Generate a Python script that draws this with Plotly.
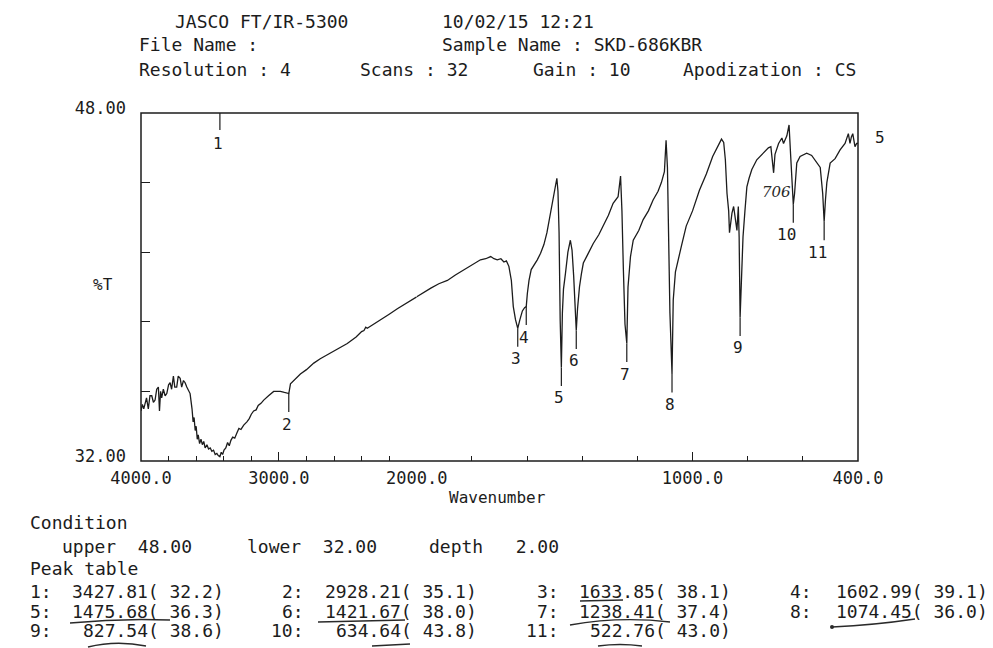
import plotly.graph_objects as go

# ---------------- data ----------------
wavenumber = [
    4000, 3990, 3980, 3971, 3960, 3947, 3935, 3922, 3910, 3898, 3886, 3874, 3866, 3858, 3850,
    3838, 3825, 3813, 3800, 3789, 3778, 3765, 3755, 3741, 3730, 3716, 3705, 3692, 3680, 3668,
    3655, 3644, 3630, 3622, 3615, 3607, 3600, 3592, 3585, 3575, 3565, 3555, 3545, 3535, 3522,
    3510, 3498, 3486, 3474, 3462, 3450, 3440, 3428, 3418, 3408, 3398, 3385, 3372, 3360, 3348,
    3335, 3320, 3304, 3290, 3275, 3255, 3232, 3215, 3200, 3183, 3165, 3150, 3130, 3110, 3075,
    3038, 3010, 2989, 2960, 2941, 2928, 2916, 2880, 2844, 2800, 2747, 2700, 2626, 2560, 2504,
    2440, 2400, 2383, 2370, 2359, 2320, 2262, 2200, 2141, 2080, 2020, 2000,
    1970, 1949, 1920, 1889, 1860, 1829, 1800, 1769, 1750, 1732, 1720, 1708, 1695, 1684, 1675,
    1666, 1657, 1650, 1642, 1638, 1633.85, 1626, 1617, 1609, 1602.99, 1599, 1593, 1585, 1575,
    1563, 1551, 1539, 1528, 1518, 1510, 1500, 1492, 1488, 1484, 1480, 1475.68, 1472, 1468,
    1461, 1452, 1443, 1437, 1431, 1426, 1421.67, 1417, 1410, 1403, 1396, 1380, 1360, 1340,
    1324, 1305, 1288, 1278, 1270, 1261, 1256, 1251, 1245, 1238.41, 1234, 1225, 1215, 1195,
    1179, 1160, 1143, 1125, 1113, 1102, 1096, 1091, 1087, 1082, 1074.45, 1070, 1062, 1053,
    1040, 1023, 1000, 975, 950, 927, 905, 895, 887, 881, 875, 869, 866, 857, 851, 845, 839,
    834, 831, 827.54, 823, 817, 810, 803, 795, 785, 767, 743, 725, 716, 710, 706, 701, 688,
    676, 670, 658, 650, 644, 640, 634.64, 630, 626, 622, 610, 586, 568, 550, 537, 528, 522.76,
    518, 513, 501, 483, 465, 447, 435, 429, 424, 419, 411, 405, 400,
]
transmittance = [
    34.3, 34.6, 34.4, 34.6, 34.9, 34.4, 35.0, 35.0, 34.7, 34.8, 35.3, 35.4, 34.3, 35.2, 34.9,
    35.3, 35.0, 35.1, 35.5, 35.6, 35.3, 35.9, 35.4, 35.4, 35.9, 35.8, 35.4, 35.7, 35.6, 35.4,
    35.2, 35.1, 34.4, 33.8, 34.0, 33.4, 33.6, 33.0, 33.2, 32.8, 33.0, 32.75, 32.9, 32.6, 32.75,
    32.55, 32.6, 32.45, 32.5, 32.3, 32.35, 32.25, 32.2, 32.4, 32.3, 32.5, 32.6, 32.85, 32.7, 32.95,
    33.1, 33.05, 33.3, 33.5, 33.45, 33.65, 33.8, 33.95, 34.15, 34.3, 34.35, 34.55, 34.65, 34.8, 35.0,
    35.2, 35.2, 35.2, 35.15, 35.1, 35.1, 35.55, 35.8, 36.0, 36.2, 36.5, 36.7, 36.95, 37.2, 37.4,
    37.7, 37.95, 38.0, 38.15, 38.1, 38.25, 38.5, 38.75, 39.0, 39.25, 39.5, 39.55,
    39.8, 39.95, 40.15, 40.3, 40.55, 40.8, 41.0, 41.25, 41.3, 41.4, 41.3, 41.25, 41.3, 41.15, 41.2,
    40.95, 40.3, 39.1, 38.5, 38.25, 38.1, 38.5, 38.9, 39.05, 39.1, 39.7, 40.3, 40.8, 41.0,
    41.25, 41.55, 41.95, 42.5, 43.2, 43.7, 44.3, 45.0, 44.4, 42.5, 38.5, 36.3, 38.8, 39.9,
    40.6, 41.6, 42.15, 41.7, 40.5, 39.3, 38.0, 39.0, 40.0, 40.6, 41.1, 41.5, 42.0, 42.4,
    42.8, 43.3, 43.85, 44.0, 44.15, 45.1, 43.5, 40.9, 38.3, 37.4, 40.0, 41.4, 42.15, 42.6,
    43.1, 43.5, 44.0, 44.4, 44.8, 45.3, 46.75, 45.5, 43.0, 38.8, 36.0, 39.4, 40.7, 41.25,
    41.9, 42.8, 43.5, 44.45, 45.2, 46.0, 46.6, 46.8, 46.65, 45.85, 44.3, 43.5, 42.5, 43.4, 43.7, 43.2, 42.6,
    43.7, 42.3, 38.6, 40.0, 42.3, 43.5, 44.6, 45.0, 45.4, 45.85, 46.15, 46.4, 46.45, 45.8, 45.25, 46.1, 46.6,
    46.85, 46.6, 46.95, 47.45, 46.0, 44.9, 43.8, 44.3, 45.2, 45.7, 46.0, 46.15, 46.05, 45.75, 45.5, 44.3, 43.0,
    44.0, 44.8, 45.7, 45.9, 46.3, 46.6, 47.05, 46.6, 46.9, 47.05, 46.45, 46.6, 46.6,
]

peak_wavenumber = [3427.81, 2928.21, 1633.85, 1602.99, 1475.68, 1421.67,
                   1238.41, 1074.45, 827.54, 634.64, 522.76]
peak_transmittance = [32.2, 35.1, 38.1, 39.1, 36.3, 38.0, 37.4, 36.0, 38.6, 43.8, 43.0]

split_wavenumber = 2000
left_ticks = [4000, 3000, 2000]
right_ticks = [1000, 400]
left_minor = [3800, 3600, 3400, 3200, 2800, 2600, 2400, 2200]
right_minor = [1800, 1600, 1400, 1200, 800, 600]
y_ticks = [32.0, 35.2, 38.4, 41.6, 44.8, 48.0]
y_ticktext = ["32.00", "", "", "", "", "48.00"]

instrument = "JASCO FT/IR-5300"
timestamp = "10/02/15 12:21"
sample_name = "SKD-686KBR"
resolution = 4
scans = 32
gain = 10
apodization = "CS"
cond_upper = 48.00
cond_lower = 32.00
cond_depth = 2.00
handwritten_note = "706"

# ---------------- layout helpers ----------------
W, H = 993, 648
FL, FT, FR, FB = 141, 113, 858, 461
FW, FH = FR - FL, FB - FT
FONT = "DejaVu Sans Mono"
INK = "#1c1c1c"
PEN = "#2a2a2a"


def px(x):
    return (x - FL) / FW


def py(y):
    return (FB - y) / FH


d_split = (4000 - split_wavenumber) / ((4000 - split_wavenumber) + 2 * (split_wavenumber - 400))

left_x = [w for w in wavenumber if w >= split_wavenumber]
left_y = [t for w, t in zip(wavenumber, transmittance) if w >= split_wavenumber]
right_x = [w for w in wavenumber if w <= split_wavenumber]
right_y = [t for w, t in zip(wavenumber, transmittance) if w <= split_wavenumber]

fig = go.Figure()
line = dict(color=INK, width=1.3)
fig.add_trace(go.Scatter(x=left_x, y=left_y, mode="lines", line=line, xaxis="x", yaxis="y",
                         showlegend=False, hoverinfo="skip"))
fig.add_trace(go.Scatter(x=right_x, y=right_y, mode="lines", line=line, xaxis="x2", yaxis="y",
                         showlegend=False, hoverinfo="skip"))

shapes = []
annotations = []

# frame
shapes.append(dict(type="rect", xref="paper", yref="paper", x0=0, x1=1, y0=0, y1=1,
                   line=dict(color=INK, width=1.5)))

# peak markers
for i, (w, t) in enumerate(zip(peak_wavenumber, peak_transmittance), start=1):
    xr = "x" if w >= split_wavenumber else "x2"
    if t - 1.6 < 32:  # label placed at the top when it would fall below the frame
        y0, y1, yl = 48.0, 47.22, 46.62
    else:
        y0, y1, yl = t, t - 0.85, t - 1.4
    shapes.append(dict(type="line", xref=xr, yref="y", x0=w, x1=w, y0=y0, y1=y1,
                       line=dict(color=INK, width=1.2)))
    annotations.append(dict(xref=xr, yref="y", x=w, y=yl, text=str(i), showarrow=False,
                            xanchor="right", yanchor="middle", xshift=5,
                            font=dict(family=FONT, size=16, color=INK)))


def txt(x, y, s, size=18, anchor="left", color=INK, family=FONT, style="normal"):
    annotations.append(dict(xref="paper", yref="paper", x=px(x), y=py(y), text=s,
                            showarrow=False, xanchor=anchor, yanchor="middle",
                            font=dict(family=family, size=size, color=color, style=style)))


# header
txt(173, 21, instrument)
txt(440, 21, timestamp)
txt(137, 45, "File Name :")
txt(440, 45, f"Sample Name : {sample_name}")
txt(137, 70, f"Resolution : {resolution}")
txt(358, 70, f"Scans : {scans}")
txt(531, 70, f"Gain : {gain}")
txt(681, 70, f"Apodization : {apodization}")

# axis titles
txt(103, 284, "%T", 16, anchor="center")
txt(497, 497, "Wavenumber", 16, anchor="center")
txt(880, 137, "5", 16, anchor="center")

# condition block
txt(28, 522, "Condition")
txt(60, 546, f"upper  {cond_upper:.2f}")
txt(245, 546, f"lower  {cond_lower:.2f}")
txt(427, 546, f"depth   {cond_depth:.2f}")
txt(28, 568, "Peak table")

col_label_x = [28, 280, 535, 788]
col_right_x = [226, 479, 733, 990]
row_y = [591, 611, 630]
for i, (w, t) in enumerate(zip(peak_wavenumber, peak_transmittance)):
    r, c = divmod(i, 4)
    lab = f"{i + 1}:"
    txt(col_label_x[c] - (11 if len(lab) > 2 else 0), row_y[r], lab)
    txt(col_right_x[c], row_y[r], f"{w:.2f}( {t:.1f})", anchor="right")

# handwritten marks
txt(776, 192, handwritten_note, 15, anchor="center", color=PEN, family="DejaVu Serif", style="italic")


def stroke(p0, p1, ctrl=None, width=1.4):
    if ctrl is None:
        path = f"M {px(p0[0])},{py(p0[1])} L {px(p1[0])},{py(p1[1])}"
    else:
        path = (f"M {px(p0[0])},{py(p0[1])} Q {px(ctrl[0])},{py(ctrl[1])} "
                f"{px(p1[0])},{py(p1[1])}")
    shapes.append(dict(type="path", xref="paper", yref="paper", path=path,
                       line=dict(color=PEN, width=width)))


stroke((580, 601), (623, 600))
stroke((70, 623), (170, 620), ctrl=(120, 618))
stroke((318, 622), (405, 620))
stroke((570, 625), (670, 622), ctrl=(620, 616))
stroke((88, 647), (146, 646), ctrl=(116, 640))
stroke((372, 646), (410, 644))
stroke((598, 646), (642, 646), ctrl=(620, 643))
stroke((832, 627), (915, 619), ctrl=(875, 625))
shapes.append(dict(type="circle", xref="paper", yref="paper",
                   x0=px(830), x1=px(834), y0=py(629), y1=py(625),
                   fillcolor=PEN, line=dict(color=PEN, width=0)))

tickfont = dict(family=FONT, size=17, color=INK)
common_x = dict(ticks="inside", ticklen=9, tickwidth=1.2, tickcolor=INK, showgrid=False,
                zeroline=False, showline=False, tickfont=tickfont, anchor="y",
                tickmode="array", ticklabelstandoff=5)

fig.update_layout(
    width=W, height=H,
    margin=dict(l=FL, r=W - FR, t=FT, b=H - FB, pad=0),
    paper_bgcolor="white", plot_bgcolor="white",
    showlegend=False,
    xaxis=dict(domain=[0, d_split], range=[4000, split_wavenumber],
               tickvals=left_ticks, ticktext=[f"{v:.1f}" for v in left_ticks],
               minor=dict(tickmode="array", tickvals=left_minor, ticks="inside",
                          ticklen=5, tickwidth=1.2, tickcolor=INK),
               **common_x),
    xaxis2=dict(domain=[d_split, 1], range=[split_wavenumber, 400],
                tickvals=right_ticks, ticktext=[f"{v:.1f}" for v in right_ticks],
                minor=dict(tickmode="array", tickvals=right_minor, ticks="inside",
                           ticklen=5, tickwidth=1.2, tickcolor=INK),
                **common_x),
    yaxis=dict(domain=[0, 1], range=[32, 48], tickmode="array", tickvals=y_ticks,
               ticktext=y_ticktext, ticks="inside", ticklen=9, tickwidth=1.2, tickcolor=INK,
               showgrid=False, zeroline=False, showline=False, tickfont=tickfont,
               anchor="x", ticklabelstandoff=14, ticklabelshift=-5),
    shapes=shapes,
    annotations=annotations,
)

fig.write_html("out.html")
